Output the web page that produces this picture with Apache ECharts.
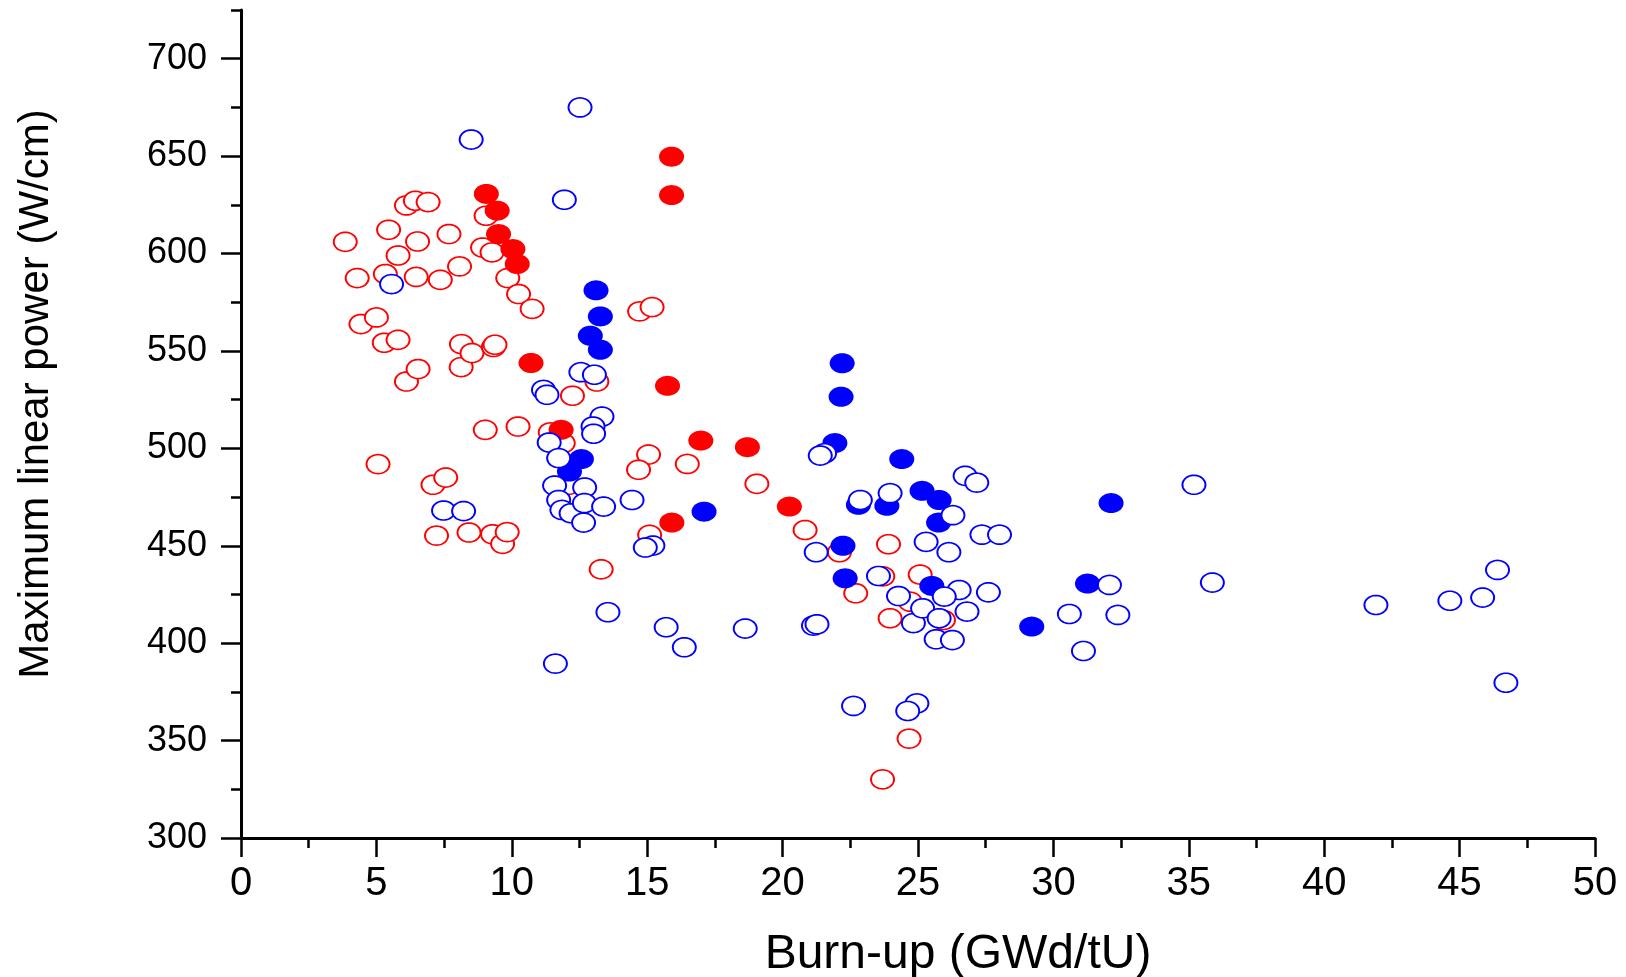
<!DOCTYPE html>
<html>
<head>
<meta charset="utf-8">
<script src="https://cdn.jsdelivr.net/npm/echarts@6/dist/echarts.min.js"></script>
<style>
html,body{margin:0;padding:0;background:#fff;}
#chart{width:1626px;height:977px;}
</style>
</head>
<body>
<div id="chart"></div>
<script>
// ---- data (burn-up GWd/tU, max linear power W/cm) ----
const xTicks = [0, 5, 10, 15, 20, 25, 30, 35, 40, 45, 50];
const yTicks = [300, 350, 400, 450, 500, 550, 600, 650, 700];
const yMinorTicks = [325, 375, 425, 475, 525, 575, 625, 675, 725];

const redOpen = [
  [3.85,606],[4.29,587.4],[4.43,563.8],[5.0,567.2],[5.06,491.9],[5.45,612.2],[5.33,589.5],
  [5.29,554.2],[5.8,599],[5.8,555.7],[6.11,624.7],[6.44,627.1],[6.91,626.4],[6.52,606.2],
  [6.47,588],[6.11,534.3],[6.54,540.7],[7.36,586.5],[7.68,610],[8.07,593.4],[8.14,553.5],
  [8.13,541.7],[8.53,548.9],[9.32,552],[9.38,553.2],[8.92,603.1],[9.05,619.4],[9.27,600.6],
  [9.85,587.4],[10.25,579.2],[10.75,571.6],[14.72,570.3],[15.18,572.5],[12.24,527],[13.14,534.3],
  [9.02,509.5],[10.23,511.2],[11.42,508.2],[11.9,502.7],[7.09,481.3],[7.56,485],[7.22,455.2],
  [8.42,456.8],[9.29,455.9],[9.66,451],[9.83,457],[13.3,437.9],[12.1,481.3],[15.05,496.8],
  [14.68,489],[16.48,492],[19.05,481.8],[15.09,455.6],[20.83,458.1],[22.1,446.7],[23.91,450.8],
  [22.7,425.6],[25.08,435.2],[23.7,434.3],[23.97,412.8],[24.71,421.3],[25.94,411.9],
  [24.67,351],[23.69,330.1]
];
const redFilled = [
  [9.06,630.6],[9.46,622],[9.51,610],[10.04,602.3],[10.2,594.6],[10.71,543.8],[11.82,509.5],
  [15.9,649.7],[15.9,630],[15.75,532.1],[16.98,504],[18.7,500.6],[20.25,470.1],[15.91,461.9]
];
const blueFilled = [
  [13.11,581.1],[13.27,567.7],[12.9,557.8],[13.27,550.6],[12.57,494.5],[12.13,488.1],[17.1,467.5],
  [22.2,543.7],[22.16,526.5],[21.93,502.7],[24.4,494.5],[22.8,471],[23.85,470.5],[25.15,478.2],
  [25.78,473.5],[25.76,461.9],[22.23,450],[22.31,433.3],[25.51,429.4],[29.2,408.5],[31.26,430.6],
  [32.13,471.9]
];
const blueOpen = [
  [12.52,675],[8.5,658.5],[11.94,627.6],[5.56,584.3],[12.55,539.1],[13.05,537.8],[11.17,530],
  [11.3,527.5],[13.33,516.3],[13.0,511.2],[13.02,507.5],[11.38,503],[11.73,495],[11.58,480.9],
  [12.69,479.9],[11.73,473.5],[11.85,468.4],[12.19,466.7],[12.68,471.9],[13.39,470.1],[12.65,461.9],
  [14.44,473.5],[7.48,468.1],[8.22,467.8],[13.55,415.9],[11.61,389.5],[15.21,450.1],[14.93,449.1],
  [15.7,408.2],[16.37,397.9],[18.62,407.5],[21.55,497.5],[21.39,496.3],[22.87,473.5],[23.97,477],
  [21.24,446.7],[23.54,434.5],[24.28,424.2],[24.83,410.3],[21.14,409],[21.27,409.7],[26.74,485.9],
  [27.17,482.4],[26.29,465.7],[25.3,452],[26.14,446.7],[27.36,455.7],[28.01,455.7],[26.52,427.3],
  [27.6,426.1],[25.17,417.9],[25.97,423.9],[26.81,416.2],[25.78,412.8],[25.67,402],[26.27,401.6],
  [30.59,415],[31.11,396],[22.62,367.8],[24.96,369.1],[24.62,365.2],[35.19,481.3],[32.07,429.9],
  [32.38,414.5],[35.87,431.1],[41.91,419.6],[44.64,421.8],[45.85,423.4],[46.4,437.6],[46.71,379.7]
];

// ellipse symbol (unit circle path, stretched by symbolSize)
function circlePath() {
  let d = '';
  const n = 48;
  for (let i = 0; i < n; i++) {
    const a = (i / n) * Math.PI * 2;
    const x = (50 + 50 * Math.cos(a)).toFixed(2);
    const y = (50 + 50 * Math.sin(a)).toFixed(2);
    d += (i === 0 ? 'M' : 'L') + x + ',' + y;
  }
  return 'path://' + d + 'Z';
}
const ELL = circlePath();
const FONT = "'Liberation Sans', Arial, sans-serif";

function openSeries(name, data, color) {
  return {
    name, type: 'scatter', data, symbol: ELL, symbolSize: [23, 19],
    itemStyle: { color: '#ffffff', borderColor: color, borderWidth: 1.8, opacity: 1 },
    emphasis: { disabled: true }, silent: true
  };
}
function filledSeries(name, data, color) {
  return {
    name, type: 'scatter', data, symbol: ELL, symbolSize: [25, 20],
    itemStyle: { color: color, borderWidth: 0, opacity: 1 },
    emphasis: { disabled: true }, silent: true
  };
}

const chart = echarts.init(document.getElementById('chart'), null, { renderer: 'canvas' });
chart.setOption({
  animation: false,
  backgroundColor: '#ffffff',
  grid: { left: 241, right: 31, top: 10, bottom: 139, containLabel: false, outerBoundsMode: 'none' },
  xAxis: {
    type: 'value', min: xTicks[0], max: xTicks[xTicks.length - 1], interval: 5,
    axisLine: { show: true, onZero: false, lineStyle: { color: '#000', width: 3 } },
    axisTick: { show: true, length: 19, lineStyle: { color: '#000', width: 2.5 } },
    minorTick: { show: true, splitNumber: 2, length: 10, lineStyle: { color: '#000', width: 2.5 } },
    splitLine: { show: false }, minorSplitLine: { show: false },
    axisLabel: { color: '#000', fontSize: 40, fontFamily: FONT, margin: 26 },
    name: 'Burn-up (GWd/tU)', nameLocation: 'middle', nameGap: 93,
    nameTextStyle: { color: '#000', fontSize: 48, fontFamily: FONT, padding: [0, 0, 0, 80] }
  },
  yAxis: [{
    type: 'value', min: 300, max: 725, position: 'left',
    axisLine: { show: true, onZero: false, lineStyle: { color: '#000', width: 3 } },
    axisTick: { show: true, length: 20, customValues: yTicks, lineStyle: { color: '#000', width: 2.5 } },
    axisLabel: { color: '#000', fontSize: 36, fontFamily: FONT, margin: 34, customValues: yTicks },
    splitLine: { show: false },
    name: 'Maximum linear power (W/cm)', nameLocation: 'middle', nameGap: 184,
    nameTextStyle: { color: '#000', fontSize: 42, fontFamily: FONT, padding: [0, 0, 0, 60] }
  }, {
    type: 'value', min: 300, max: 725, position: 'left',
    axisLine: { show: false },
    axisTick: { show: true, length: 10, customValues: yMinorTicks, lineStyle: { color: '#000', width: 2.5 } },
    axisLabel: { show: false },
    splitLine: { show: false }
  }],
  series: [
    openSeries('redOpen', redOpen, '#ff0000'),
    filledSeries('redFilled', redFilled, '#ff0000'),
    filledSeries('blueFilled', blueFilled, '#0000ff'),
    openSeries('blueOpen', blueOpen, '#0000ff')
  ]
});
</script>
</body>
</html>
